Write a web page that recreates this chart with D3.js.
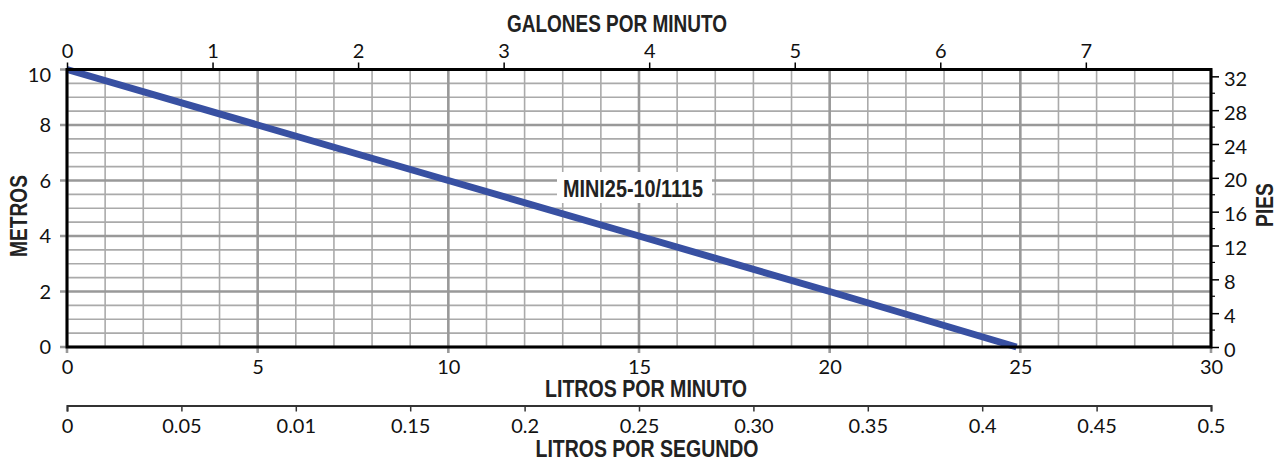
<!DOCTYPE html>
<html>
<head>
<meta charset="utf-8">
<script src="https://cdn.jsdelivr.net/npm/d3@7"></script>
<style>
  body { margin: 0; background: #fff; }
  svg { display: block; }
</style>
</head>
<body>
<div id="chart"></div>
<script>
// curve: litros por minuto -> metros
const flowLpm = [0, 5, 10, 15, 20, 24.9];
const headM = [10, 8, 6, 4, 2, 0];

const lpmTicks = [0, 5, 10, 15, 20, 25, 30];
const metroTicks = [0, 2, 4, 6, 8, 10];
const gpmTicks = [0, 1, 2, 3, 4, 5, 6, 7];
const piesTicks = [0, 4, 8, 12, 16, 20, 24, 28, 32];
const piesMinor = [2, 6, 10, 14, 18, 22, 26, 30];
const lpsTicks = [0, 0.05, 0.1, 0.15, 0.2, 0.25, 0.3, 0.35, 0.4, 0.45, 0.5];
const lpsLabels = ["0", "0.05", "0.01", "0.15", "0.2", "0.25", "0.30", "0.35", "0.4", "0.45", "0.5"];

const curveName = "MINI25-10/1115";
const gpmAtRightEdge = 7.86;   // as drawn on the top scale
const piesAtTop = 10 / 0.3048;

const width = 1277, height = 461;
const plot = { left: 67, right: 1211, top: 69.5, bottom: 347 };

const tickFont = 'Lato, "Open Sans", sans-serif';
const titleFont = '"Liberation Sans Narrow", "Arial Narrow", "Liberation Sans", sans-serif';
const tickFontSize = 20;
const titleFontSize = 23;

const x = d3.scaleLinear().domain([0, 30]).range([plot.left, plot.right]);
const y = d3.scaleLinear().domain([0, 10]).range([plot.bottom, plot.top]);
const xGpm = d3.scaleLinear().domain([0, gpmAtRightEdge]).range([plot.left, plot.right]);
const yPies = d3.scaleLinear().domain([0, piesAtTop]).range([plot.bottom, plot.top]);
const xLps = d3.scaleLinear().domain([0, 0.5]).range([plot.left, plot.right]);

const svg = d3.select("#chart").append("svg")
  .attr("width", width)
  .attr("height", height);

// minor grid
const gridG = svg.append("g");
gridG.selectAll("line.vminor")
  .data(d3.range(0, 31).filter(d => d % 5 !== 0))
  .join("line")
  .attr("class", "vminor")
  .attr("x1", d => x(d)).attr("x2", d => x(d))
  .attr("y1", plot.top).attr("y2", plot.bottom)
  .attr("stroke", "#aaaaaa").attr("stroke-width", 1.6);

gridG.selectAll("line.hminor")
  .data(d3.range(0, 10.01, 0.5).filter(d => d % 2 !== 0))
  .join("line")
  .attr("class", "hminor")
  .attr("x1", plot.left).attr("x2", plot.right)
  .attr("y1", d => y(d)).attr("y2", d => y(d))
  .attr("stroke", "#aaaaaa").attr("stroke-width", 1.6);

// major grid (runs out past the frame as the tick marks)
gridG.selectAll("line.vmajor")
  .data(lpmTicks)
  .join("line")
  .attr("class", "vmajor")
  .attr("x1", d => x(d)).attr("x2", d => x(d))
  .attr("y1", plot.top).attr("y2", plot.bottom + 6)
  .attr("stroke", "#999999").attr("stroke-width", 2.6);

gridG.selectAll("line.hmajor")
  .data(metroTicks)
  .join("line")
  .attr("class", "hmajor")
  .attr("x1", plot.left - 7).attr("x2", plot.right)
  .attr("y1", d => y(d)).attr("y2", d => y(d))
  .attr("stroke", "#999999").attr("stroke-width", 2.6);

// pump curve
const pts = flowLpm.map((f, i) => [f, headM[i]]);
svg.append("path")
  .datum(pts)
  .attr("fill", "none")
  .attr("stroke", "#3850a2")
  .attr("stroke-width", 7)
  .attr("d", d3.line().x(d => x(d[0])).y(d => y(d[1])));

// curve label
svg.append("rect")
  .attr("x", 557).attr("y", 172)
  .attr("width", 155).attr("height", 31)
  .attr("fill", "#fff");

function title(sel) {
  sel.attr("font-family", titleFont)
    .attr("font-weight", "bold")
    .attr("font-size", titleFontSize)
    .attr("fill", "#222")
    .attr("text-anchor", "middle")
    .attr("lengthAdjust", "spacingAndGlyphs");
}

svg.append("text").call(title)
  .attr("x", 633).attr("y", 197)
  .attr("textLength", 140)
  .text(curveName);

// frame
svg.append("rect")
  .attr("x", plot.left).attr("y", plot.top)
  .attr("width", plot.right - plot.left)
  .attr("height", plot.bottom - plot.top)
  .attr("fill", "none")
  .attr("stroke", "#000")
  .attr("stroke-width", 3);

function tickText(g) {
  g.attr("font-family", tickFont).attr("font-size", tickFontSize);
  g.selectAll(".tick text").attr("fill", "#111");
}

// bottom: litros por minuto
const axB = svg.append("g")
  .attr("transform", `translate(0,${plot.bottom})`)
  .call(d3.axisBottom(x).tickValues(lpmTicks).tickSize(6).tickPadding(7).tickFormat(d3.format("d")))
  .call(tickText);
axB.select(".domain").remove();
axB.selectAll(".tick line").remove();

// left: metros
const axL = svg.append("g")
  .attr("transform", `translate(${plot.left},0)`)
  .call(d3.axisLeft(y).tickValues(metroTicks).tickSize(7).tickPadding(9).tickFormat(d3.format("d")))
  .call(tickText);
axL.select(".domain").remove();
axL.selectAll(".tick line").remove();
axL.selectAll(".tick text").attr("dy", d => d === 10 ? "0.62em" : "0.34em");

// top: galones por minuto
const axT = svg.append("g")
  .attr("transform", `translate(0,${plot.top})`)
  .call(d3.axisTop(xGpm).tickValues(gpmTicks).tickSize(7).tickPadding(5).tickFormat(d3.format("d")))
  .call(tickText);
axT.select(".domain").remove();
axT.selectAll(".tick line").attr("stroke", "#000").attr("stroke-width", 1.5);

// right: pies
const axR = svg.append("g")
  .attr("transform", `translate(${plot.right},0)`)
  .call(d3.axisRight(yPies).tickValues(piesTicks).tickSize(8).tickPadding(5).tickFormat(d3.format("d")))
  .call(tickText);
axR.select(".domain").remove();
axR.selectAll(".tick line").attr("stroke", "#000").attr("stroke-width", 1.5);
axR.selectAll(".tick text").attr("dy", "0.45em");
axR.selectAll("line.minor")
  .data(piesMinor)
  .join("line")
  .attr("class", "minor")
  .attr("x1", 0).attr("x2", 4)
  .attr("y1", d => yPies(d)).attr("y2", d => yPies(d))
  .attr("stroke", "#000").attr("stroke-width", 1.2);

// second bottom scale: litros por segundo
const axS = svg.append("g")
  .attr("transform", `translate(0,405.5)`)
  .call(d3.axisBottom(xLps).tickValues(lpsTicks).tickSize(6).tickSizeOuter(6).tickPadding(7)
    .tickFormat((d, i) => lpsLabels[i]))
  .call(tickText);
axS.select(".domain").attr("stroke", "#333").attr("stroke-width", 2);
axS.selectAll(".tick line").attr("stroke", "#333").attr("stroke-width", 1.5);

// axis titles
svg.append("text").call(title)
  .attr("x", 617).attr("y", 32)
  .attr("textLength", 220)
  .text("GALONES POR MINUTO");

svg.append("text").call(title)
  .attr("x", 646).attr("y", 397)
  .attr("textLength", 202)
  .text("LITROS POR MINUTO");

svg.append("text").call(title)
  .attr("x", 647).attr("y", 457)
  .attr("textLength", 223)
  .text("LITROS POR SEGUNDO");

svg.append("text").call(title)
  .attr("transform", "translate(27,216) rotate(-90)")
  .attr("textLength", 82)
  .text("METROS");

svg.append("text").call(title)
  .attr("transform", "translate(1273,205) rotate(-90)")
  .attr("textLength", 44)
  .text("PIES");
</script>
</body>
</html>
